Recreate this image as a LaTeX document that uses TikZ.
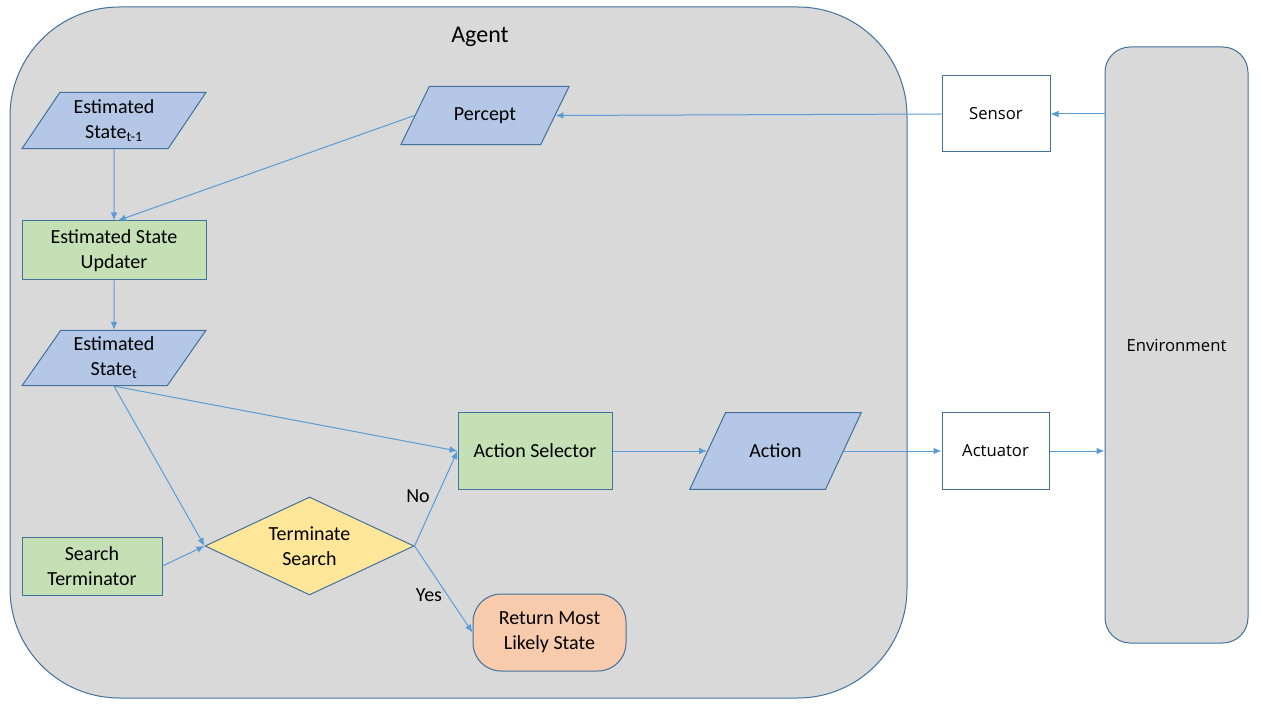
\documentclass[tikz,border=0pt]{standalone}
\usepackage{fontspec}
\setmainfont{Carlito}
\newfontfamily\outerfont{Open Sans}
\usetikzlibrary{shapes.geometric,arrows.meta}

\definecolor{lineblue}{RGB}{91,155,213}
\definecolor{edgeblue}{RGB}{65,113,156}
\definecolor{datablue}{RGB}{180,199,231}
\definecolor{procgreen}{RGB}{197,224,180}
\definecolor{decyellow}{RGB}{255,230,153}
\definecolor{termorange}{RGB}{248,203,173}
\definecolor{agentgrey}{RGB}{217,217,217}

\tikzset{
  box/.style={draw=edgeblue, line width=0.75pt, align=center, inner sep=0pt,
    font=\fontsize{15}{18.75}\selectfont},
  proc/.style={box, rectangle, fill=procgreen},
  data/.style={box, trapezium, fill=datablue},
  outer/.style={box, rectangle, fill=white, font=\outerfont\fontsize{12.5}{15}\selectfont,
    minimum width=81pt, minimum height=57pt},
  conn/.style={draw=lineblue, line width=0.75pt, -{Latex[length=6pt,width=5pt]}},
}

\begin{document}
\begin{tikzpicture}[x=0.75pt,y=0.75pt,yscale=-1,xscale=1]
\useasboundingbox (0,0) rectangle (1261,709);

%Shape: Rounded Rect (agent and environment)
\node (agent) [box, fill=agentgrey, rounded corners=82pt, minimum width=672.75pt, minimum height=518.25pt] at (458.5,352.5) {};
\node (agentlbl) [font=\fontsize{18}{22}\selectfont] at (480,36.5) {Agent};
\node (env) [box, fill=agentgrey, rounded corners=19pt, minimum width=107.25pt, minimum height=447pt, font=\outerfont\fontsize{12.5}{15}\selectfont] at (1176.5,345) {Environment};

%Shape: Parallelogram
\node (estprev) [data, trapezium left angle=56, trapezium right angle=124, minimum width=138pt, minimum height=41.25pt] at (114,120.5) {Estimated\\State\textsubscript{t-1}};
\node (percept) [data, trapezium left angle=64, trapezium right angle=116, inner xsep=18.5pt, inner ysep=15.8pt] at (485,115.5) {Percept};
\node (estnow) [data, trapezium left angle=55, trapezium right angle=125, minimum width=138pt, minimum height=40.5pt] at (114,358) {Estimated\\State\textsubscript{t}};
\node (action) [data, trapezium left angle=65, trapezium right angle=115, inner xsep=17.9pt, inner ysep=23.5pt] at (775.5,451) {Action};

%Shape: Rectangle
\node (updater) [proc, minimum width=138pt, minimum height=44.25pt] at (114,250.5) {Estimated State\\Updater};
\node (searchterm) [proc, minimum width=105pt, minimum height=43.5pt] at (92,566) {Search\\Terminator};
\node (actsel) [proc, minimum width=115.5pt, minimum height=57pt] at (535,451) {Action Selector};
\node (sensor) [outer] at (996,114) {Sensor};
\node (actuator) [outer, minimum width=80.25pt] at (995.5,451) {Actuator};

%Shape: Diamond
\node (termsearch) [box, diamond, fill=decyellow, aspect=2, minimum width=156.75pt, minimum height=73.5pt] at (309.5,546) {Terminate\\Search};

%Shape: Rounded Rect
\node (retstate) [box, fill=termorange, rounded corners=21pt, minimum width=114.75pt, minimum height=57.75pt] at (549.5,632.5) {Return Most\\Likely State};

%Straight Lines
\draw [conn] (env.west |- sensor.east) -- (sensor.east);
\draw [conn] (sensor.west) -- (percept.right side);
\draw [conn] (percept.left side) -- ([xshift=3pt]updater.north);
\draw [conn] (estprev.south) -- (updater.north);
\draw [conn] (updater.south) -- (estnow.north);
\draw [conn] (estnow.south) -- (actsel.west);
\draw [conn] (estnow.south) -- (termsearch.west);
\draw [conn] (searchterm.east) -- (termsearch.west);
\draw [conn] (termsearch.east) -- (actsel.west);
\draw [conn] (termsearch.east) -- (retstate.west);
\draw [conn] (actsel.east) -- (action.left side);
\draw [conn] (action.right side) -- (actuator.west);
\draw [conn] (actuator.east) -- (actuator.east -| env.west);

% Text Node
\node (nolbl) [font=\fontsize{15}{18}\selectfont] at (418,496) {No};
\node (yeslbl) [font=\fontsize{15}{18}\selectfont] at (429,595) {Yes};

\end{tikzpicture}
\end{document}
